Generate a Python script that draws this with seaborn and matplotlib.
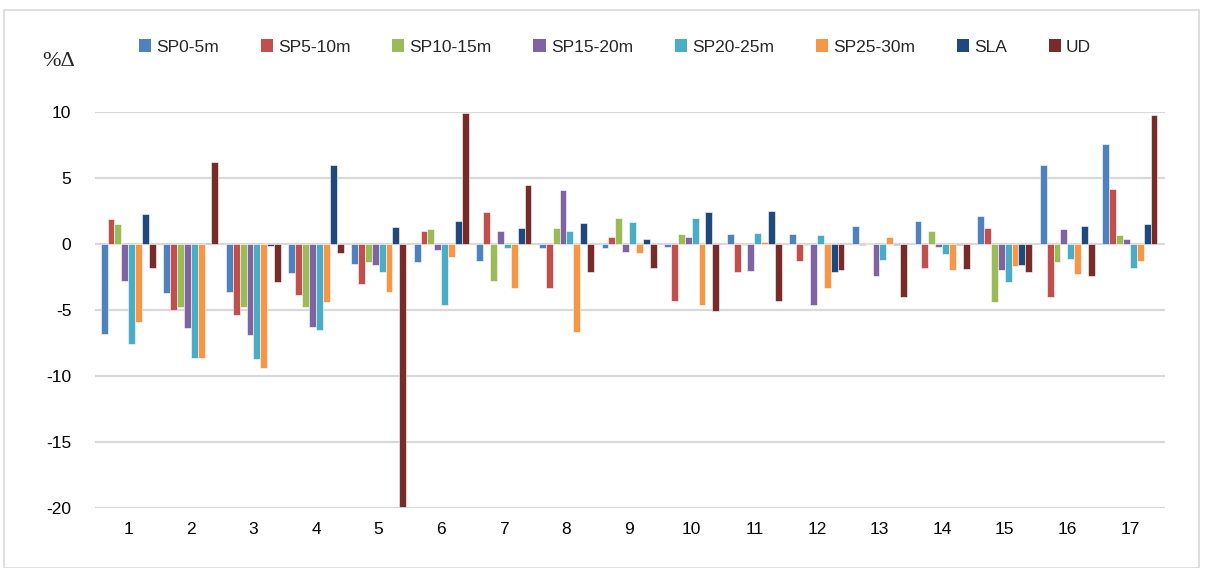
import matplotlib
matplotlib.use("Agg")
import matplotlib.pyplot as plt
import seaborn as sns
import pandas as pd
from matplotlib.patches import Rectangle, Patch

categories = [str(i) for i in range(1, 18)]
series = ["SP0-5m", "SP5-10m", "SP10-15m", "SP15-20m", "SP20-25m", "SP25-30m", "SLA", "UD"]

sp0_5   = [-6.8, -3.7, -3.6, -2.2, -1.5, -1.4, -1.25, -0.3, -0.3, -0.2, 0.75, 0.75, 1.4, 1.75, 2.15, 6.0, 7.55]
sp5_10  = [1.9, -5.0, -5.4, -3.9, -3.0, 1.0, 2.45, -3.3, 0.5, -4.3, -2.1, -1.25, -0.1, -1.8, 1.25, -4.05, 4.15]
sp10_15 = [1.5, -4.75, -4.8, -4.8, -1.4, 1.1, -2.8, 1.2, 1.95, 0.75, -0.05, -0.05, 0.1, 1.0, -4.4, -1.35, 0.7]
sp15_20 = [-2.8, -6.4, -6.9, -6.3, -1.6, -0.45, 1.0, 4.1, -0.6, 0.5, -2.05, -4.6, -2.45, -0.2, -1.95, 1.1, 0.35]
sp20_25 = [-7.6, -8.6, -8.7, -6.5, -2.15, -4.6, -0.3, 0.95, 1.7, 1.95, 0.8, 0.65, -1.2, -0.75, -2.85, -1.15, -1.85]
sp25_30 = [-5.9, -8.6, -9.4, -4.4, -3.6, -0.95, -3.35, -6.7, -0.65, -4.6, 0.15, -3.3, 0.5, -1.95, -1.7, -2.3, -1.3]
sla     = [2.3, 0.05, -0.15, 6.0, 1.3, 1.75, 1.25, 1.6, 0.4, 2.4, 2.5, -2.1, -0.1, -0.1, -1.6, 1.4, 1.5]
ud      = [-1.8, 6.2, -2.85, -0.7, -19.9, 9.9, 4.45, -2.1, -1.8, -5.1, -4.3, -2.0, -4.0, -1.9, -2.1, -2.45, 9.8]

values = [sp0_5, sp5_10, sp10_15, sp15_20, sp20_25, sp25_30, sla, ud]
colors = ["#4F81BD", "#C0504D", "#9BBB59", "#8064A2", "#4BACC6", "#F79646", "#1F497D", "#772C2A"]

rows = []
for s, vals in zip(series, values):
    for c, v in zip(categories, vals):
        rows.append({"cat": c, "series": s, "val": v})
df = pd.DataFrame(rows)

sns.set_theme(style="white")
plt.rcParams["font.family"] = ["Liberation Sans", "DejaVu Sans"]

fig = plt.figure(figsize=(12.06, 5.68), dpi=100)
ax = fig.add_axes([95/1206, 1-508/568, 1070/1206, 396/568])

sns.barplot(data=df, x="cat", y="val", hue="series", order=categories,
            hue_order=series, palette=colors, width=0.88, gap=0,
            saturation=1, ax=ax, legend=False, errorbar=None,
            edgecolor="white", linewidth=0.4)

ax.set_ylim(-20, 10)
ax.set_xlim(-0.53, 16.56)
ax.set_yticks([-20, -15, -10, -5, 0, 5, 10])
ax.set_yticklabels(["-20", "-15", "-10", "-5", "0", "5", "10"])
ax.yaxis.grid(True, color="#D9D9D9", linewidth=1.6)
ax.set_axisbelow(True)
for sp in ax.spines.values():
    sp.set_visible(False)
ax.set_xlabel("")
ax.set_ylabel("")
ax.tick_params(axis="both", length=0, labelsize=12.5, colors="#000000")
ax.tick_params(axis="y", pad=17)
ax.tick_params(axis="x", pad=10)

handles = [Patch(facecolor=c, edgecolor="none") for c in colors]
fig.legend(handles, series, loc="center", bbox_to_anchor=(615/1206, 1-47/568),
           ncol=8, frameon=False, fontsize=12.5, handlelength=0.7, handleheight=0.7,
           handletextpad=0.3, columnspacing=2.4)

fig.text(42/1206, 1-62/568, "%Δ", family=["Liberation Serif", "DejaVu Serif"],
         fontsize=16, va="center", ha="left")

fig.patches.append(Rectangle((4/1206, 0), 1195/1206, 1-10/568, transform=fig.transFigure,
                             fill=False, edgecolor="#D9D9D9", linewidth=1.2))

fig.savefig("out.png", dpi=100)
